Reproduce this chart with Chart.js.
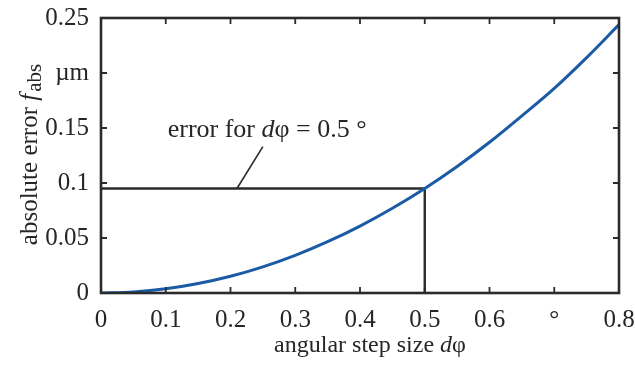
<!DOCTYPE html>
<html>
<head>
<meta charset="utf-8">
<script src="https://cdn.jsdelivr.net/npm/chart.js@4/dist/chart.umd.min.js"></script>
<style>
  html, body { margin: 0; padding: 0; background: #ffffff; }
  #wrap { width: 635px; height: 365px; }
</style>
</head>
<body>
<div id="wrap"><canvas id="c" width="635" height="365"></canvas></div>
<script>
// ---- data ----
const stepSizes = [0, 0.05, 0.1, 0.15, 0.2, 0.25, 0.3, 0.35, 0.4, 0.45, 0.5, 0.55, 0.6, 0.65, 0.7, 0.75, 0.8];
const absErrors = [0, 0.001, 0.0038, 0.0086, 0.0152, 0.0238, 0.0342, 0.0466, 0.0608, 0.077, 0.095, 0.115, 0.137, 0.161, 0.186, 0.214, 0.244];
const markerX = [0, 0.5, 0.5];
const markerY = [0.095, 0.095, 0];
const leaderX = [0.25, 0.21];
const leaderY = [0.133, 0.095];
const xTickLabels = { "0": "0", "0.1": "0.1", "0.2": "0.2", "0.3": "0.3", "0.4": "0.4", "0.5": "0.5", "0.6": "0.6", "0.7": "°", "0.8": "0.8" };
const yTickLabels = { "0": "0", "0.05": "0.05", "0.1": "0.1", "0.15": "0.15", "0.2": "µm", "0.25": "0.25" };
const annotationText = ["error for ", "d", "φ = 0.5 °"];
const annotationAt = { x: 0.103, y: 0.142 };

const FONT = '"Liberation Serif", "Times New Roman", serif';
const TXT = '#262626';
const FRAME = '#2b2b2b';

const toPts = (xs, ys) => xs.map((x, i) => ({ x: x, y: ys[i] }));
const key = v => String(Math.round(v * 100) / 100);

const framePlugin = {
  id: 'frame',
  afterDatasetsDraw(chart) {
    const { ctx, chartArea: a, scales } = chart;
    ctx.save();
    ctx.strokeStyle = FRAME;
    ctx.lineWidth = 1.8;
    const tl = 6;
    ctx.beginPath();
    scales.x.ticks.forEach(t => {
      const px = scales.x.getPixelForValue(t.value);
      ctx.moveTo(px, a.bottom); ctx.lineTo(px, a.bottom - tl);
      ctx.moveTo(px, a.top); ctx.lineTo(px, a.top + tl);
    });
    scales.y.ticks.forEach(t => {
      const py = scales.y.getPixelForValue(t.value);
      ctx.moveTo(a.left, py); ctx.lineTo(a.left + tl, py);
      ctx.moveTo(a.right, py); ctx.lineTo(a.right - tl, py);
    });
    ctx.stroke();
    ctx.lineWidth = 2.6;
    ctx.strokeRect(a.left, a.top, a.right - a.left, a.bottom - a.top);

    // annotation text
    ctx.fillStyle = TXT;
    ctx.textBaseline = 'alphabetic';
    ctx.textAlign = 'left';
    let tx = scales.x.getPixelForValue(annotationAt.x);
    const ty = scales.y.getPixelForValue(annotationAt.y);
    annotationText.forEach((s, i) => {
      ctx.font = (i === 1 ? 'italic ' : '') + '26px ' + FONT;
      ctx.fillText(s, tx, ty);
      tx += ctx.measureText(s).width;
    });

    // x axis title
    const xParts = [['angular step size ', ''], ['d', 'italic '], ['φ', '']];
    let w = 0;
    xParts.forEach(p => { ctx.font = p[1] + '24px ' + FONT; w += ctx.measureText(p[0]).width; });
    let sx = (a.left + a.right) / 2 + 10 - w / 2;
    xParts.forEach(p => { ctx.font = p[1] + '24px ' + FONT; ctx.fillText(p[0], sx, 352); sx += ctx.measureText(p[0]).width; });

    // y axis title
    const yParts = [['absolute error ', '', 25, 0], ['f', 'italic ', 25, 0], ['abs', '', 21, 4]];
    w = 0;
    yParts.forEach(p => { ctx.font = p[1] + p[2] + 'px ' + FONT; w += ctx.measureText(p[0]).width; });
    ctx.translate(37, (a.top + a.bottom) / 2);
    ctx.rotate(-Math.PI / 2);
    let sy = -w / 2;
    yParts.forEach(p => { ctx.font = p[1] + p[2] + 'px ' + FONT; ctx.fillText(p[0], sy, p[3]); sy += ctx.measureText(p[0]).width + (p[0] === 'f' ? 2 : 0); });
    ctx.restore();
  }
};

new Chart(document.getElementById('c'), {
  type: 'scatter',
  data: {
    datasets: [
      { data: toPts(stepSizes, absErrors), showLine: true, borderColor: '#1b5aa5', borderWidth: 3, pointRadius: 0, cubicInterpolationMode: 'monotone', order: 1 },
      { data: toPts(markerX, markerY), showLine: true, borderColor: FRAME, borderWidth: 2.4, pointRadius: 0, tension: 0, order: 2 },
      { data: toPts(leaderX, leaderY), showLine: true, borderColor: FRAME, borderWidth: 1.6, pointRadius: 0, tension: 0, order: 2 }
    ]
  },
  options: {
    responsive: false,
    animation: false,
    devicePixelRatio: 1,
    layout: { padding: { left: 0, top: 18, right: 16, bottom: 0 } },
    plugins: { legend: { display: false }, tooltip: { enabled: false } },
    scales: {
      x: {
        type: 'linear', min: 0, max: 0.8,
        afterFit: s => { s.height = 72; s.paddingLeft = 0; s.paddingRight = 0; },
        grid: { display: false, drawTicks: false },
        border: { display: false },
        ticks: {
          stepSize: 0.1, padding: 12, color: TXT, maxRotation: 0,
          font: { family: FONT, size: 25 },
          callback: v => xTickLabels[key(v)] ?? ''
        }
      },
      y: {
        type: 'linear', min: 0, max: 0.25,
        afterFit: s => { s.width = 101; s.paddingTop = 0; s.paddingBottom = 0; },
        grid: { display: false, drawTicks: false },
        border: { display: false },
        ticks: {
          stepSize: 0.05, padding: 12, color: TXT,
          font: { family: FONT, size: 25 },
          callback: v => yTickLabels[key(v)] ?? ''
        }
      }
    }
  },
  plugins: [framePlugin]
});
</script>
</body>
</html>
